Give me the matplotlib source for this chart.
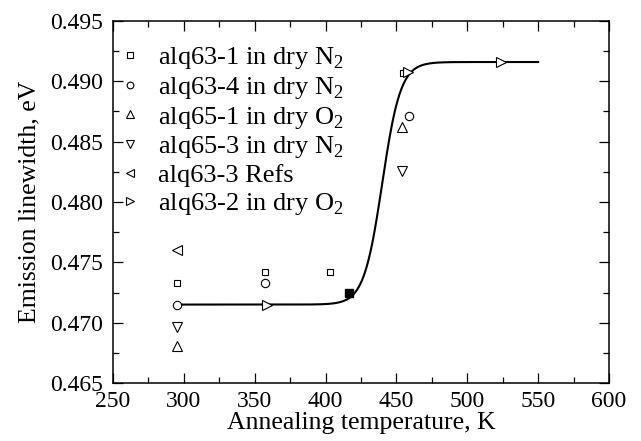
import numpy as np
import matplotlib as mpl
import matplotlib.pyplot as plt
from matplotlib.ticker import MultipleLocator

mpl.use('Agg')
plt.rcParams['font.family'] = ['Liberation Serif', 'DejaVu Serif']
plt.rcParams['mathtext.fontset'] = 'custom'
plt.rcParams['mathtext.rm'] = 'Liberation Serif'

# alq63-1 in dry N2 (squares)
t_sq = [295, 357, 403, 455]
w_sq = [0.4733, 0.4742, 0.4742, 0.4907]
# alq63-4 in dry N2 (circles)
t_ci = [295, 357, 459]
w_ci = [0.4715, 0.4733, 0.4871]
# alq65-1 in dry O2 (up triangles)
t_up = [295, 454]
w_up = [0.4681, 0.4862]
# alq65-3 in dry N2 (down triangles)
t_dn = [295, 454]
w_dn = [0.4696, 0.4826]
# alq63-3 Refs (left triangles)
t_lt = [295]
w_lt = [0.4760]
# alq63-2 in dry O2 (right triangles)
t_rt = [359, 458, 524]
w_rt = [0.4715, 0.4908, 0.4916]
# filled square, not in legend
t_fill = [416.5]
w_fill = [0.4725]

# Boltzmann fit
A1, A2, x0, dx = 0.4715, 0.4916, 440.0, 6.5
t_fit = np.linspace(295, 550, 400)
w_fit = A2 + (A1 - A2) / (1 + np.exp((t_fit - x0) / dx))

fig = plt.figure(figsize=(6.41, 4.41), dpi=100)
ax = fig.add_axes([0.1763, 0.1315, 0.7737, 0.8209])

ax.plot(t_fit, w_fit, color='black', lw=1.5, zorder=1)

mk = dict(ls='none', mfc='white', mec='black', mew=0.8, zorder=2)
ax.plot(t_sq, w_sq, 's', ms=5, label='alq63-1 in dry N$_2$', **mk)
ax.plot(t_ci, w_ci, 'o', ms=6, label='alq63-4 in dry N$_2$', **mk)
ax.plot(t_up, w_up, '^', ms=6.5, label='alq65-1 in dry O$_2$', **mk)
ax.plot(t_dn, w_dn, 'v', ms=6.5, label='alq65-3 in dry N$_2$', **mk)
ax.plot(t_lt, w_lt, '<', ms=6.5, label='alq63-3 Refs', **mk)
ax.plot(t_rt, w_rt, '>', ms=6.5, label='alq63-2 in dry O$_2$', **mk)
ax.plot(t_fill, w_fill, 's', ms=5.5, color='black', ls='none', zorder=3)

ax.set_xlim(250, 600)
ax.set_ylim(0.465, 0.495)
ax.xaxis.set_major_locator(MultipleLocator(50))
ax.xaxis.set_minor_locator(MultipleLocator(25))
ax.yaxis.set_major_locator(MultipleLocator(0.005))
ax.yaxis.set_minor_locator(MultipleLocator(0.0025))
ax.yaxis.set_major_formatter(mpl.ticker.FormatStrFormatter('%.3f'))
ax.tick_params(which='both', direction='in', top=True, right=True, labelsize=17, width=0.9)
ax.tick_params(which='major', length=7)
ax.tick_params(which='minor', length=4)
ax.tick_params(axis='y', pad=7)
ax.tick_params(axis='x', pad=6)
for s in ax.spines.values():
    s.set_linewidth(1.1)

ax.set_xlabel('Annealing temperature, K', fontsize=18.5, labelpad=0)
ax.set_ylabel('Emission linewidth, eV', fontsize=18.5, labelpad=7)

leg = ax.legend(loc='upper left', bbox_to_anchor=(0.0, 0.955), frameon=False,
                fontsize=19, handlelength=0.7, handletextpad=0.7, labelspacing=0.14,
                borderaxespad=0.0, borderpad=0.3, markerscale=0.8)

plt.savefig('out.png', dpi=100)
